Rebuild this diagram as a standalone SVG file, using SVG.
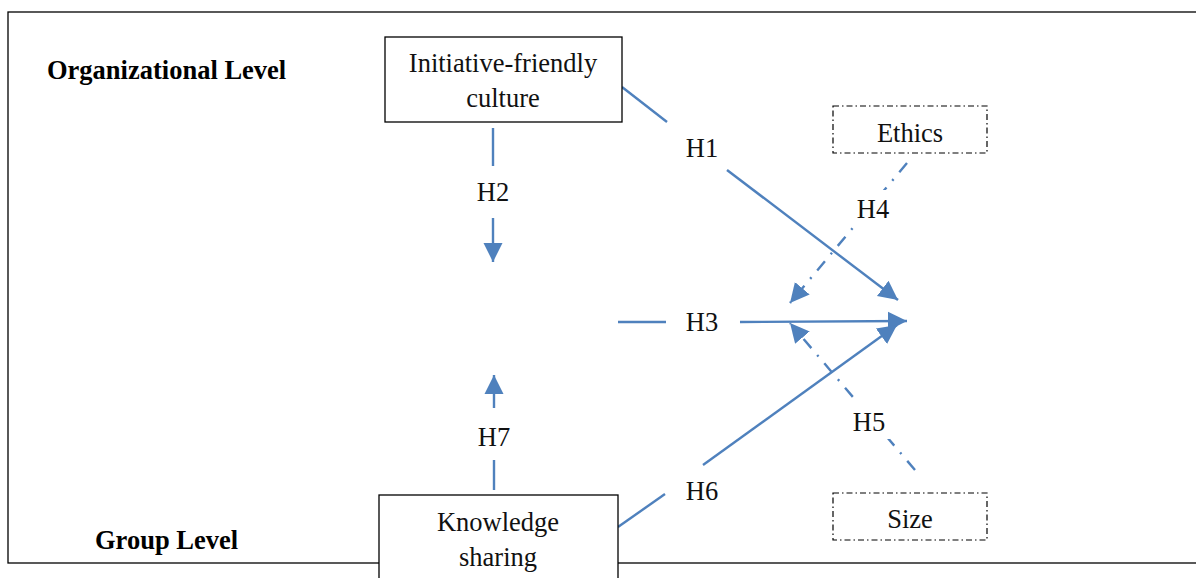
<svg xmlns="http://www.w3.org/2000/svg" width="1196" height="578" viewBox="0 0 1196 578">
<style>
.t{font-family:"Liberation Serif","Times New Roman",serif;font-size:26.5px;fill:#111;text-anchor:middle}
.b{font-family:"Liberation Serif","Times New Roman",serif;font-size:26.5px;font-weight:bold;fill:#000}
.box{fill:#fff;stroke:#000;stroke-width:1.3}
.dbox{fill:#fff;stroke:#000;stroke-width:1.2;stroke-dasharray:6 3 1.5 3}
.c{stroke:#4F81BD;stroke-width:2.4;fill:none}
.dc{stroke:#4F81BD;stroke-width:2.4;fill:none;stroke-dasharray:12 9 2 9}
.bg{fill:#fff}
</style>
<defs>
<marker id="ah" markerWidth="10" markerHeight="10" refX="8" refY="4" orient="auto" markerUnits="strokeWidth">
<path d="M0,0 L8,4 L0,8 Z" fill="#4F81BD"/>
</marker>
</defs>
<rect x="8" y="12" width="1200" height="551" fill="none" stroke="#000" stroke-width="1.3"/>
<text class="b" x="47" y="79">Organizational Level</text>
<text class="b" x="95" y="549">Group Level</text>
<g id="connectors">
<line class="c" x1="493" y1="128" x2="493" y2="166"/>
<line class="c" x1="493" y1="218" x2="493" y2="262" marker-end="url(#ah)"/>
<line class="c" x1="494" y1="490" x2="494" y2="460"/>
<line class="c" x1="494" y1="408" x2="494" y2="375" marker-end="url(#ah)"/>
<line class="c" x1="622" y1="87" x2="667" y2="122"/>
<line class="c" x1="727" y1="170" x2="898" y2="300" marker-end="url(#ah)"/>
<line class="c" x1="618" y1="322" x2="666" y2="322"/>
<line class="c" x1="740" y1="322" x2="907" y2="321" marker-end="url(#ah)"/>
<line class="c" x1="618" y1="527" x2="665" y2="494"/>
<line class="c" x1="703" y1="465" x2="897" y2="325" marker-end="url(#ah)"/>
<line class="dc" x1="907" y1="163" x2="790" y2="303" marker-end="url(#ah)"/>
<line class="dc" x1="915" y1="470" x2="790" y2="323" marker-end="url(#ah)"/>
<rect class="bg" x="852" y="190" width="42" height="36"/>
<rect class="bg" x="848" y="403" width="42" height="36"/>
<text class="t" x="493" y="201">H2</text>
<text class="t" x="494" y="446">H7</text>
<text class="t" x="702" y="157">H1</text>
<text class="t" x="702" y="331">H3</text>
<text class="t" x="702" y="500">H6</text>
<text class="t" x="873" y="218">H4</text>
<text class="t" x="869" y="431">H5</text>
</g>
<g id="initiative">
<rect class="box" x="385" y="37" width="237" height="85"/>
<text class="t" x="503" y="72">Initiative-friendly</text>
<text class="t" x="503" y="107">culture</text>
</g>
<g id="knowledge">
<rect class="box" x="379" y="495" width="239" height="100"/>
<text class="t" x="498" y="531">Knowledge</text>
<text class="t" x="498" y="566">sharing</text>
</g>
<g id="ethics">
<rect class="dbox" x="833" y="106" width="154" height="47"/>
<text class="t" x="910" y="142">Ethics</text>
</g>
<g id="size">
<rect class="dbox" x="833" y="493" width="154" height="47"/>
<text class="t" x="910" y="528">Size</text>
</g>
</svg>
